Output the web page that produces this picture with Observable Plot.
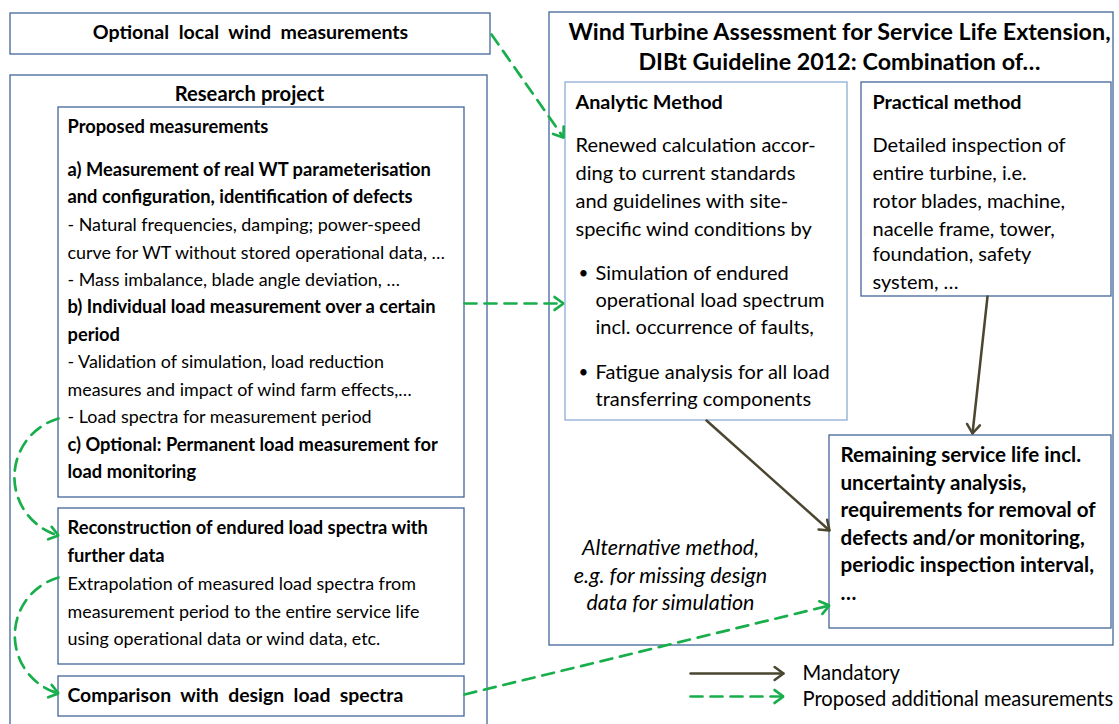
<!DOCTYPE html>
<html><head><meta charset="utf-8">
<script src="https://cdn.jsdelivr.net/npm/d3@7"></script>
<script src="https://cdn.jsdelivr.net/npm/@observablehq/plot@0.6"></script>
<style>html,body{margin:0;padding:0;background:#fff;}</style>
</head><body><div id="chart"></div>
<script>
// ---- Boxes of the diagram ----
const boxNames  = ["wind","research","proposed","reconstruction","comparison","assessment","analytic","practical","remaining"];
const boxLeft   = [10, 10, 58, 58, 58, 549, 565, 861, 829];
const boxTop    = [13, 75, 107, 508, 676, 12, 82, 82, 435];
const boxRight  = [490, 487, 464, 464, 464, 1113, 847, 1111, 1111];
const boxBottom = [54, 730, 497, 664, 716, 645, 420, 296, 628];

// ---- Text blocks (text, weight b/r/i) ----
const windLines = [["Optional  local  wind  measurements","b"]];
const researchTitle = [["Research project","b"]];
const proposedLines = [
  ["Proposed measurements","b"],
  ["a) Measurement of real WT parameterisation","b"],
  ["and configuration, identification of defects","b"],
  ["- Natural frequencies, damping; power-speed","r"],
  ["curve for WT without stored operational data, …","r"],
  ["- Mass imbalance, blade angle deviation, …","r"],
  ["b) Individual load measurement over a certain","b"],
  ["period","b"],
  ["- Validation of simulation, load reduction","r"],
  ["measures and impact of wind farm effects,…","r"],
  ["- Load spectra for measurement period","r"],
  ["c) Optional: Permanent load measurement for","b"],
  ["load monitoring","b"]
];
const proposedY = [127, 170, 197, 225, 253, 280, 307, 335, 362, 390, 417, 445, 472];
const reconstructionLines = [
  ["Reconstruction of endured load spectra with","b"],
  ["further data","b"],
  ["Extrapolation of measured load spectra from","r"],
  ["measurement period to the entire service life","r"],
  ["using operational data or wind data, etc.","r"]
];
const reconstructionY = [528, 556, 584, 612, 639];
const comparisonLines = [["Comparison  with  design  load  spectra","b"]];
const assessmentTitle = [
  ["Wind Turbine Assessment for Service Life Extension,","b"],
  ["DIBt Guideline 2012: Combination of…","b"]
];
const assessmentY = [32, 62];
const analyticLines = [
  ["Analytic Method","b"],
  ["Renewed calculation accor-","r"],
  ["ding to current standards","r"],
  ["and guidelines with site-","r"],
  ["specific wind conditions by","r"]
];
const analyticY = [102, 145, 173, 201, 229];
const bulletLines = [
  ["Simulation of endured","r"],
  ["operational load spectrum","r"],
  ["incl. occurrence of faults,","r"],
  ["Fatigue analysis for all load","r"],
  ["transferring components","r"]
];
const bulletY = [273, 300, 327, 372, 399];
const bulletMarks = [273, 372];
const practicalLines = [
  ["Practical method","b"],
  ["Detailed inspection of","r"],
  ["entire turbine, i.e.","r"],
  ["rotor blades, machine,","r"],
  ["nacelle frame, tower,","r"],
  ["foundation, safety","r"],
  ["system, …","r"]
];
const practicalY = [102, 145, 173, 201, 229, 254, 282];
const remainingLines = [
  ["Remaining service life incl.","b"],
  ["uncertainty analysis,","b"],
  ["requirements for removal of","b"],
  ["defects and/or monitoring,","b"],
  ["periodic inspection interval,","b"],
  ["…","b"]
];
const remainingY = [455, 483, 510, 538, 565, 593];
const alternativeLines = [
  ["Alternative method,","i"],
  ["e.g. for missing design","i"],
  ["data for simulation","i"]
];
const alternativeY = [548, 576, 603];
const legendLabels = ["Mandatory", "Proposed additional measurements"];
const legendY = [673, 699];

// ---- Connectors ----
const arrowKind = ["proposed","proposed","proposed","proposed","proposed","mandatory","mandatory","mandatory","proposed"];
const arrowX1 = [491, 464, 58, 58, 464, 706, 987, 690, 690];
const arrowY1 = [34, 303, 418, 577, 694, 420, 296, 673, 696];
const arrowX2 = [563, 563, 58, 58, 829, 829, 972, 783, 783];
const arrowY2 = [137, 303, 535, 693, 605, 530, 433, 673, 696];
const arrowBend = [0, 0, -74, -74, 0, 0, 0, 0, 0];

// ---- Build tables ----
const boxes = boxNames.map((n, i) => ({name: n, x1: boxLeft[i], y1: boxTop[i], x2: boxRight[i], y2: boxBottom[i]}));
const texts = [];
function addBlock(lines, ys, x, anchor, sizeB, sizeR) {
  lines.forEach(([t, w], i) => texts.push({text: t, w, x, y: ys[i], anchor, size: w === "b" ? sizeB : sizeR}));
}
addBlock(windLines, [32], 250, "middle", 19.6, 19.6);
addBlock(researchTitle, [94], 249, "middle", 20.2, 20.2);
addBlock(proposedLines, proposedY, 67, "start", 18.3, 17.9);
addBlock(reconstructionLines, reconstructionY, 67, "start", 18.3, 17.9);
addBlock(comparisonLines, [695], 67, "start", 19.4, 19.4);
addBlock(assessmentTitle, assessmentY, 839, "middle", 23.3, 23.3);
addBlock(analyticLines, analyticY, 575, "start", 19.8, 20);
addBlock(bulletLines, bulletY, 595, "start", 20, 20);
addBlock(bulletMarks.map(() => ["•","r"]), bulletMarks, 578, "start", 17, 17);
addBlock(practicalLines, practicalY, 872, "start", 19.8, 20);
addBlock(remainingLines, remainingY, 840, "start", 20.6, 20.6);
addBlock(alternativeLines, alternativeY, 670, "middle", 21.5, 21.5);
addBlock(legendLabels.map(t => [t, "r"]), legendY, 802, "start", 20.2, 20.2);

const arrows = arrowKind.map((k, i) => ({kind: k, x1: arrowX1[i], y1: arrowY1[i], x2: arrowX2[i], y2: arrowY2[i], bend: arrowBend[i]}));
const heads = [];
arrows.forEach((a, i) => {
  const ang = Math.atan2(a.y2 - a.y1, a.x2 - a.x1) + a.bend * Math.PI / 180;
  const L = 11, w = 36 * Math.PI / 180;
  heads.push({x: a.x2 - L * Math.cos(ang - w), y: a.y2 - L * Math.sin(ang - w), z: i, kind: a.kind});
  heads.push({x: a.x2, y: a.y2, z: i, kind: a.kind});
  heads.push({x: a.x2 - L * Math.cos(ang + w), y: a.y2 - L * Math.sin(ang + w), z: i, kind: a.kind});
});

const GREEN = "#17AE4B", BROWN = "#4B4630", BOX = "#42669B", BOXLIGHT = "#8EABD6";
const FONT = "Lato, 'Open Sans', sans-serif";

function textMark(filter, weight, style, anchor) {
  return Plot.text(texts.filter(d => d.w === filter && d.anchor === anchor), {
    x: "x", y: "y", text: "text", fontSize: d => d.size, textAnchor: anchor,
    fontWeight: weight, fontStyle: style, fill: "#000", fontFamily: FONT, lineAnchor: "middle"
  });
}
function shafts(kind, bend) {
  const green = kind === "proposed";
  return Plot.arrow(arrows.filter(d => d.kind === kind && d.bend === bend), {
    x1: "x1", y1: "y1", x2: "x2", y2: "y2", bend, headLength: 0,
    stroke: green ? GREEN : BROWN, strokeWidth: green ? 2.7 : 2.5,
    strokeDasharray: green ? "12,8" : null
  });
}

const chart = Plot.plot({
  width: 1119, height: 724, margin: 0,
  x: {domain: [0, 1119], range: [0, 1119], axis: null},
  y: {domain: [0, 724], range: [0, 724], axis: null},
  style: {background: "white", fontFamily: FONT},
  marks: [
    Plot.rect(boxes.filter(d => d.name !== "analytic"), {x1: "x1", y1: "y1", x2: "x2", y2: "y2", fill: "white", stroke: BOX, strokeWidth: 1.3}),
    Plot.rect(boxes.filter(d => d.name === "analytic"), {x1: "x1", y1: "y1", x2: "x2", y2: "y2", fill: "white", stroke: BOXLIGHT, strokeWidth: 1.3}),
    shafts("proposed", 0),
    shafts("proposed", -74),
    shafts("mandatory", 0),
    Plot.line(heads.filter(d => d.kind === "proposed"), {x: "x", y: "y", z: "z", stroke: GREEN, strokeWidth: 2.7, curve: "linear", strokeLinejoin: "miter"}),
    Plot.line(heads.filter(d => d.kind === "mandatory"), {x: "x", y: "y", z: "z", stroke: BROWN, strokeWidth: 2.5, curve: "linear", strokeLinejoin: "miter"}),
    textMark("b", "bold", "normal", "start"),
    textMark("b", "bold", "normal", "middle"),
    textMark("r", "normal", "normal", "start"),
    textMark("i", "normal", "italic", "middle")
  ]
});
document.getElementById("chart").appendChild(chart);
</script>
</body></html>
